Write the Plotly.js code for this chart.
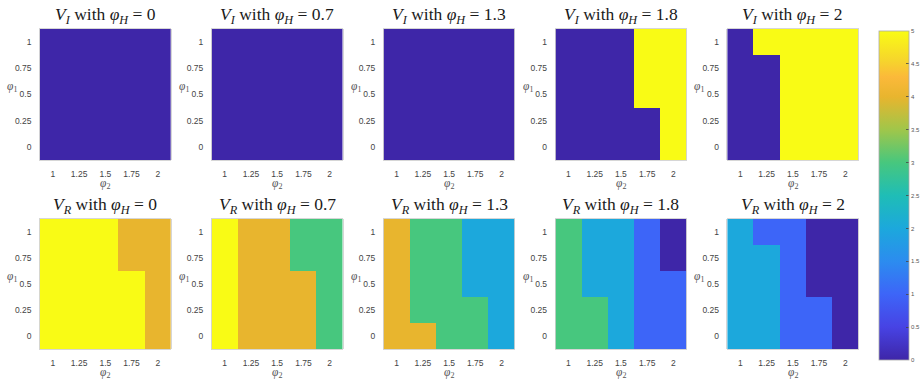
<!DOCTYPE html>
<html>
<head>
<meta charset="utf-8">
<script src="https://cdn.plot.ly/plotly-3.0.1.min.js"></script>
<style>
  html, body { margin: 0; padding: 0; background: #fff; }
  #chart { width: 924px; height: 380px; }
</style>
</head>
<body>
<div id="chart"></div>
<script>
// Grid coordinates
const phi2 = [1, 1.25, 1.5, 1.75, 2];       // x
const phi1 = [0, 0.25, 0.5, 0.75, 1];       // y
const phiH = ['0', '0.7', '1.3', '1.8', '2'];

// V_I values, rows ordered by phi1 (0 -> 1)
const vI_0  = [[0,0,0,0,0],[0,0,0,0,0],[0,0,0,0,0],[0,0,0,0,0],[0,0,0,0,0]];
const vI_07 = [[0,0,0,0,0],[0,0,0,0,0],[0,0,0,0,0],[0,0,0,0,0],[0,0,0,0,0]];
const vI_13 = [[0,0,0,0,0],[0,0,0,0,0],[0,0,0,0,0],[0,0,0,0,0],[0,0,0,0,0]];
const vI_18 = [[0,0,0,0,5],[0,0,0,0,5],[0,0,0,5,5],[0,0,0,5,5],[0,0,0,5,5]];
const vI_2  = [[0,0,5,5,5],[0,0,5,5,5],[0,0,5,5,5],[0,0,5,5,5],[0,5,5,5,5]];

// V_R values, rows ordered by phi1 (0 -> 1)
const vR_0  = [[5,5,5,5,4],[5,5,5,5,4],[5,5,5,5,4],[5,5,5,4,4],[5,5,5,4,4]];
const vR_07 = [[5,4,4,4,3],[5,4,4,4,3],[5,4,4,4,3],[5,4,4,3,3],[5,4,4,3,3]];
const vR_13 = [[4,4,3,3,2],[4,3,3,3,2],[4,3,3,2,2],[4,3,3,2,2],[4,3,3,2,2]];
const vR_18 = [[3,3,2,1,1],[3,3,2,1,1],[3,2,2,1,1],[3,2,2,1,0],[3,2,2,1,0]];
const vR_2  = [[2,2,1,1,0],[2,2,1,1,0],[2,2,1,0,0],[2,2,1,0,0],[2,1,1,0,0]];

const cbTicks = [0, 0.5, 1, 1.5, 2, 2.5, 3, 3.5, 4, 4.5, 5];

const rowsData = [[vI_0, vI_07, vI_13, vI_18, vI_2], [vR_0, vR_07, vR_13, vR_18, vR_2]];
const rowNames = ['I', 'R'];

// parula-like colour scale
const parula = [
  [0.00, '#3e26a8'],
  [0.10, '#4743e4'],
  [0.20, '#3d65f8'],
  [0.30, '#2c8cef'],
  [0.40, '#1ca8dc'],
  [0.50, '#1fbdb6'],
  [0.60, '#47c77e'],
  [0.70, '#a0c64a'],
  [0.80, '#e8b52e'],
  [0.86, '#fbb93a'],
  [0.91, '#f6d52c'],
  [1.00, '#f9fb15']
];

const W = 924, H = 380;
const colLeft = [40, 213, 386, 559, 732];
const panelW = 132;
const rowTop = [29, 219];
const panelH = [131, 130];

const traces = [];
const layout = {
  width: W, height: H,
  margin: {l: 0, r: 0, t: 0, b: 0},
  paper_bgcolor: '#fff',
  plot_bgcolor: '#fff',
  showlegend: false,
  annotations: []
};

const sans = "'Liberation Sans', Arial, sans-serif";
const serif = "'Liberation Serif', 'Times New Roman', serif";
const tickFont = {family: sans, size: 8.5, color: '#444', weight: 'normal'};

let k = 0;
for (let r = 0; r < 2; r++) {
  for (let c = 0; c < 5; c++) {
    k++;
    const xa = 'xaxis' + (k === 1 ? '' : k);
    const ya = 'yaxis' + (k === 1 ? '' : k);
    const xr = 'x' + (k === 1 ? '' : k);
    const yr = 'y' + (k === 1 ? '' : k);
    const x0 = colLeft[c] / W, x1 = (colLeft[c] + panelW) / W;
    const y1 = 1 - rowTop[r] / H, y0 = 1 - (rowTop[r] + panelH[r]) / H;

    const tr = {
      type: 'heatmap',
      x: phi2, y: phi1, z: rowsData[r][c],
      xaxis: xr, yaxis: yr,
      colorscale: parula, zmin: 0, zmax: 5,
      showscale: false,
      hoverinfo: 'x+y+z'
    };
    if (k === 10) {
      tr.showscale = true;
      tr.colorbar = {
        x: 885 / W, xanchor: 'left', xref: 'paper',
        y: 1 - 195.5 / H, yanchor: 'middle',
        lenmode: 'pixels', len: 329,
        thickness: 30, thicknessmode: 'pixels',
        xpad: 0, ypad: 0,
        outlinewidth: 0.8, outlinecolor: '#aaa',
        ticks: 'inside', ticklen: 3, tickcolor: '#444', tickwidth: 0.8,
        tickvals: cbTicks, ticktext: cbTicks.map(String),
        tickfont: {family: sans, size: 6, color: '#555'},
        ticklabelposition: 'outside'
      };
    }
    traces.push(tr);

    layout[xa] = {
      domain: [x0, x1], anchor: yr,
      range: [0.875, 2.125],
      tickvals: phi2, ticktext: phi2.map(String),
      tickfont: tickFont, ticks: '', showgrid: false, zeroline: false,
      showline: true, linecolor: '#bbb', linewidth: 0.6, mirror: true,
      ticklabelstandoff: 6
    };
    layout[ya] = {
      domain: [y0, y1], anchor: xr,
      range: [-0.125, 1.125],
      tickvals: phi1, ticktext: phi1.map(String),
      tickfont: tickFont, ticks: '', showgrid: false, zeroline: false,
      showline: true, linecolor: '#bbb', linewidth: 0.6, mirror: true,
      ticklabelstandoff: 6
    };

    const cx = (colLeft[c] + panelW / 2) / W;
    // panel title
    layout.annotations.push({
      xref: 'paper', yref: 'paper', x: cx, y: 1 - (rowTop[r] - 14) / H,
      xanchor: 'center', yanchor: 'middle', showarrow: false,
      text: '<i>V</i><sub><i>' + rowNames[r] + '</i></sub> with <i>φ</i><sub><i>H</i></sub> = ' + phiH[c],
      font: {family: serif, size: 17.5, color: '#1a1a1a', weight: 'normal'}
    });
    // x-axis label
    layout.annotations.push({
      xref: 'paper', yref: 'paper', x: cx, y: 1 - (rowTop[r] + panelH[r] + 23.5) / H,
      xanchor: 'center', yanchor: 'middle', showarrow: false,
      text: '<i>φ</i><sub>2</sub>',
      font: {family: serif, size: 11.5, color: '#555', weight: 'normal'}
    });
    // y-axis label (horizontal), placed just left of the tick labels
    layout.annotations.push({
      xref: 'paper', yref: 'paper', x: (colLeft[c] - 27) / W, y: 1 - (rowTop[r] + 58) / H,
      xanchor: 'right', yanchor: 'middle', xshift: 6, showarrow: false,
      text: '<i>φ</i><sub>1</sub>',
      font: {family: serif, size: 11.5, color: '#555', weight: 'normal'}
    });
  }
}

Plotly.newPlot('chart', traces, layout, {displayModeBar: false, staticPlot: true});
</script>
</body>
</html>
